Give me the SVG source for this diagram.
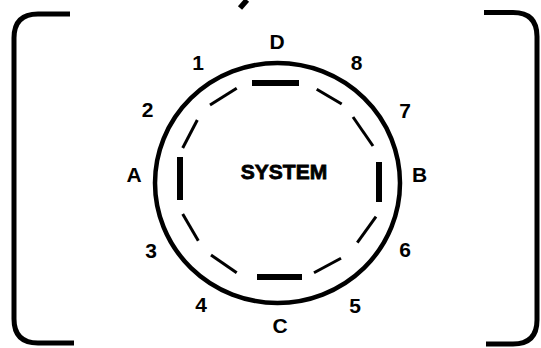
<svg xmlns="http://www.w3.org/2000/svg" width="541" height="348" viewBox="0 0 541 348">
<style>
.bk{fill:none;stroke:#000;stroke-width:5;stroke-linecap:butt}
.ring{fill:none;stroke:#000;stroke-width:4.5}
.dash{stroke:#000;stroke-width:3;stroke-linecap:butt}
.bar{stroke:#000;stroke-width:6;stroke-linecap:butt}
.lbl{font-family:"Liberation Sans",Arial,sans-serif;font-weight:bold;font-size:21px;fill:#000;text-anchor:middle}
.sys{font-family:"Liberation Sans",Arial,sans-serif;font-weight:bold;font-size:21px;fill:#000;stroke:#000;stroke-width:0.8;text-anchor:middle}
</style>
<rect width="541" height="348" fill="#fff"/>
<g id="frame">
<path class="bk" d="M70,14 H38 Q14,14 14,38 V319 Q14,343 38,343 H74"/>
<path class="bk" d="M484,12.5 H513 Q537,12.5 537,36.5 V320 Q537,344 513,344 H486"/>
<line x1="240" y1="8" x2="247" y2="0" stroke="#000" stroke-width="5.5"/>
</g>
<g id="system">
<ellipse class="ring" cx="277.5" cy="183" rx="122.5" ry="120"/>
<text class="sys" x="284" y="179">SYSTEM</text>
</g>
<g id="connectors">
<line class="dash" x1="210" y1="105" x2="236.7" y2="88.3"/>
<line class="dash" x1="182.7" y1="148" x2="197.3" y2="120"/>
<line class="dash" x1="316.7" y1="89.3" x2="341.7" y2="104"/>
<line class="dash" x1="353" y1="117" x2="373" y2="146"/>
<line class="dash" x1="182.7" y1="214" x2="198.3" y2="240.7"/>
<line class="dash" x1="211" y1="255" x2="236.7" y2="272.7"/>
<line class="dash" x1="314" y1="272.7" x2="341" y2="258.3"/>
<line class="dash" x1="357.3" y1="242.7" x2="376" y2="216.7"/>
</g>
<g id="port-D"><line class="bar" x1="252" y1="83" x2="299" y2="83"/><text class="lbl" x="277" y="49">D</text></g>
<g id="port-C"><line class="bar" x1="257" y1="277" x2="302" y2="277"/><text class="lbl" x="280" y="333">C</text></g>
<g id="port-A"><line class="bar" x1="180" y1="157" x2="180" y2="200"/><text class="lbl" x="134" y="182">A</text></g>
<g id="port-B"><line class="bar" x1="379" y1="162" x2="379" y2="202"/><text class="lbl" x="419.5" y="182">B</text></g>
<g id="n1"><text class="lbl" x="198" y="70">1</text></g>
<g id="n2"><text class="lbl" x="147.5" y="117">2</text></g>
<g id="n3"><text class="lbl" x="151" y="258">3</text></g>
<g id="n4"><text class="lbl" x="201" y="312">4</text></g>
<g id="n5"><text class="lbl" x="355" y="313">5</text></g>
<g id="n6"><text class="lbl" x="405" y="257">6</text></g>
<g id="n7"><text class="lbl" x="405" y="118">7</text></g>
<g id="n8"><text class="lbl" x="356.5" y="70">8</text></g>
</svg>
